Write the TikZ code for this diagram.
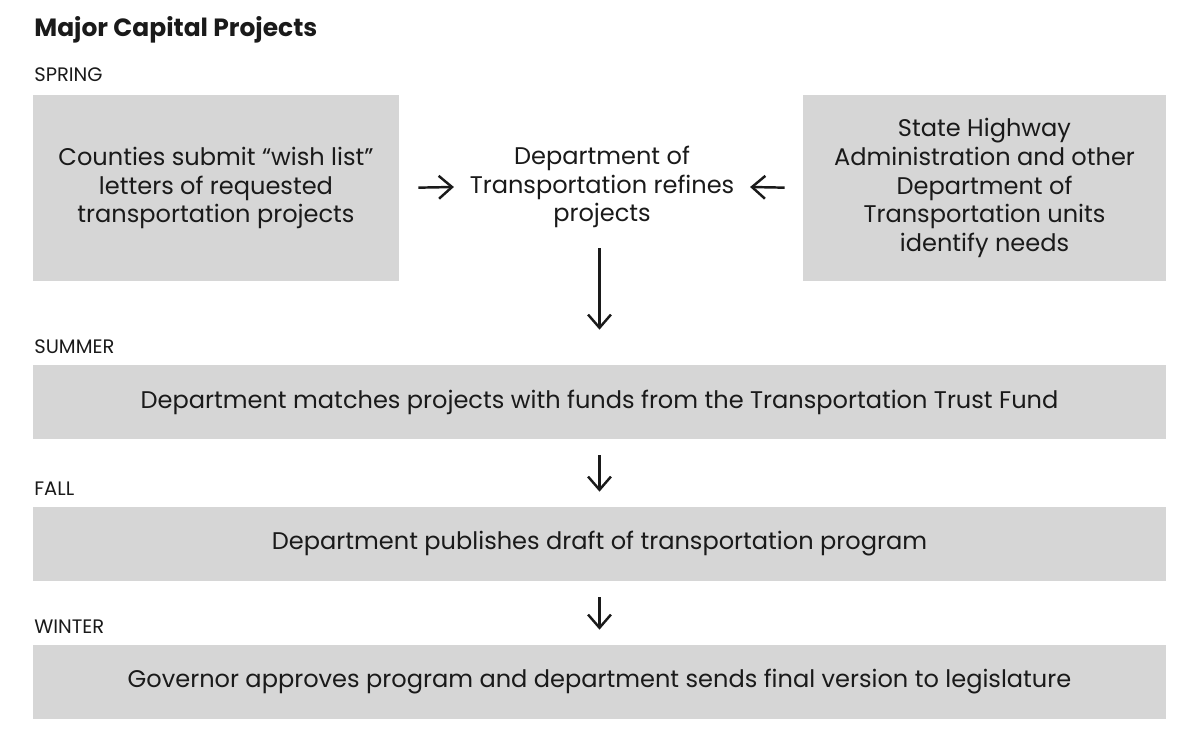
\documentclass[tikz,border=0pt]{standalone}
\usepackage{fontspec}
\setmainfont{Poppins}
\usetikzlibrary{arrows.meta}
\definecolor{boxgray}{HTML}{D6D6D6}
\definecolor{ink}{HTML}{1A1A1A}
\begin{document}
\begin{tikzpicture}[x=0.02cm, y=-0.02cm,
  >={Straight Barb[length=7.5pt, width=13pt]},
  every node/.style={text=ink},
  flow/.style={->, line width=1.4pt, draw=ink},
  season/.style={anchor=base west, font=\fontsize{11.1}{13}\selectfont, inner sep=0pt},
  stepbox/.style={fill=boxgray, inner sep=0pt, align=center,
    font=\fontsize{13.7}{16.3}\selectfont},
  widebox/.style={stepbox, minimum width=1133*0.02cm, minimum height=74*0.02cm}]
\useasboundingbox (0,0) rectangle (1202,756);
% title and season labels
\node[anchor=base west, inner sep=0pt, font=\fontsize{14.2}{17}\selectfont\bfseries] (title) at (34,37) {Major Capital Projects};
\node[season] (spring) at (34,82) {SPRING};
\node[season] (summer lbl) at (34,354) {SUMMER};
\node[season] (fall lbl) at (34,495) {FALL};
\node[season] (winter lbl) at (34,633) {WINTER};
% spring row
\node[stepbox, minimum width=366*0.02cm, minimum height=186*0.02cm] (counties) at (216,188)
  {Counties submit ``wish list''\\letters of requested\\transportation projects};
\node[stepbox, minimum width=363*0.02cm, minimum height=186*0.02cm] (sha) at (984.5,188)
  {State Highway\\Administration and other\\Department of\\Transportation units\\identify needs};
\node[align=center, inner ysep=0pt, inner xsep=0.31cm, font=\fontsize{13.7}{16.3}\selectfont] (refine) at (602,187)
  {Department of\\Transportation refines\\projects};
\draw[flow, shorten <=0.38cm] (counties.east) -- (refine.west);
\draw[flow, shorten <=0.36cm] (sha.west) -- (refine.east);
% summer, fall, winter
\node[widebox] (summer) at (599.5,402) {Department matches projects with funds from the Transportation Trust Fund};
\node[widebox] (fall) at (599.5,544) {Department publishes draft of transportation program};
\node[widebox] (winter) at (599.5,682) {Governor approves program and department sends final version to legislature};
\draw[flow, shorten <=0.4cm, shorten >=0.7cm] (refine.south -| summer.north) -- (summer.north);
\draw[flow, shorten <=0.32cm, shorten >=0.3cm] (summer) -- (fall);
\draw[flow, shorten <=0.32cm, shorten >=0.3cm] (fall) -- (winter);
\end{tikzpicture}
\end{document}
